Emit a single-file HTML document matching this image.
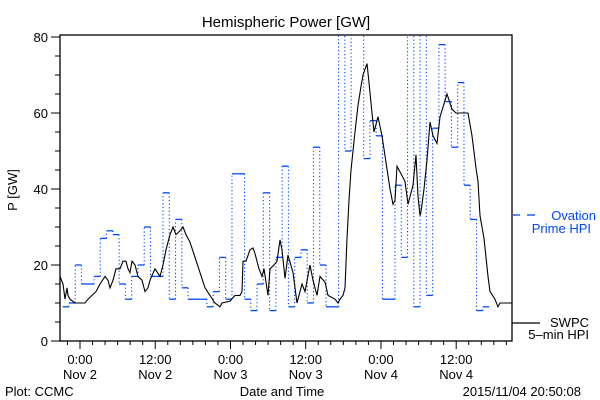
<!DOCTYPE html>
<html><head><meta charset="utf-8"><style>
body{margin:0;background:#fff;}
svg{display:block;font-family:"Liberation Sans",sans-serif;}
</style></head><body>
<svg id="chart" width="600" height="400" viewBox="0 0 600 400">
<defs><clipPath id="plotclip"><rect x="60" y="35" width="452" height="306"/></clipPath></defs>
<text x="286" y="27" font-size="15" text-anchor="middle">Hemispheric Power [GW]</text>
<rect x="60" y="35" width="452" height="306" fill="none" stroke="#000" stroke-width="1.3"/>
<g id="yaxis"></g>
<g id="xaxis"></g>
<text transform="translate(17,190) rotate(-90)" font-size="13" text-anchor="middle">P [GW]</text>
<text x="282" y="396" font-size="13" text-anchor="middle">Date and Time</text>
<text x="5" y="396" font-size="13">Plot: CCMC</text>
<text x="581" y="396" font-size="13" text-anchor="end">2015/11/04 20:50:08</text>
<g clip-path="url(#plotclip)">
<g id="ovation"></g>
<g id="swpc"></g>
</g>
<g>
<line x1="513" y1="215" x2="520" y2="215" stroke="#0048ff" stroke-width="1.3"/>
<line x1="527" y1="215" x2="535" y2="215" stroke="#0048ff" stroke-width="1.3"/>
<text x="596" y="220" font-size="13" fill="#0048ff" text-anchor="end">Ovation</text>
<text x="591" y="233" font-size="13" fill="#0048ff" text-anchor="end">Prime HPI</text>
</g>
<g>
<line x1="512" y1="323" x2="540" y2="323" stroke="#000" stroke-width="1.3"/>
<text x="589" y="327" font-size="13" text-anchor="end">SWPC</text>
<text x="589" y="339" font-size="13" text-anchor="end">5–min HPI</text>
</g>
</svg>
<script>
const yTicks=[0,20,40,60,80];
const xTickHours=[0,12,24,36,48,60];
const xTickTimes=["0:00","12:00","0:00","12:00","0:00","12:00"];
const xTickDates=["Nov 2","Nov 2","Nov 3","Nov 3","Nov 4","Nov 4"];
const ovationStart=-2.76;
const ovationValues=[9,10,20,15,15,17,27,29,28,15,11,17,20,30,17,17,39,11,32,14,11,11,11,9,13,22,11,44,44,11,8,15,39,8,22,46,9,22,24,10,51,20,9,9,85,50,85,85,48,58,54,11,11,41,22,85,9,85,12,56,78,63,51,68,41,32,8,9];
const swpcHours=[-3.19,-2.71,-2.39,-2.07,-1.91,-1.59,-0.8,0,0.8,1.28,1.91,2.55,3.19,3.99,4.47,4.78,5.26,5.74,6.38,6.86,7.34,7.66,7.97,8.29,8.77,9.25,9.89,10.37,10.85,11.16,11.96,12.76,13.24,13.72,14.35,14.83,15.31,15.95,16.43,16.91,17.54,18.34,19.14,19.94,20.73,21.53,22.33,22.65,23.92,24.72,25.52,25.84,26,26.48,27.11,27.59,27.91,28.55,29.03,29.35,29.98,30.3,30.94,31.42,31.9,32.22,32.7,33.17,33.97,34.61,35.41,35.89,36.68,37.16,37.8,38.28,39.07,39.55,40.67,41.15,41.47,41.95,42.26,42.58,42.9,43.22,43.54,43.86,44.34,44.82,45.14,45.77,46.09,46.57,46.89,47.21,47.53,48.17,48.8,49.44,49.92,50.24,50.56,51.04,51.83,52.31,52.63,53.11,53.59,53.91,54.23,54.39,54.86,55.34,55.82,56.3,56.94,57.42,58.53,59.33,59.97,61.88,62.52,63.16,63.48,63.8,64.43,65.07,65.39,66.19,66.67,66.99,68.9];
const swpcValues=[17,15,11,14,12,11,10,10,10,11,12,13,15,17,16,14,16,19,19,21,21,19,18,21,20,17,16,13,14,16,19,17,20,24,28,30,28,29,30,28,26,22,18,14,12,10,9,10,10.5,12,12,13,21,21,24,24.5,23,19,17,19,12,19,20,21,26.6,24,16.5,22.6,18,10,15,13,20,16,12,17,15.5,12,11,10,11,12,14,27,37,45,50,55,62,67,70,73,68,60,55,57,59,54,47,40,36,37,46,44.5,42,36,38,41,49,38,33,34,40,47.6,57.6,54,52,59,65,61,60,60,54,45.5,42,33,27,17,13,11,9,10,10];

const NS="http://www.w3.org/2000/svg";
const X0=60,X1=512,H0=-3.19,H1=68.9;
function xs(h){return X0+(h-H0)/(H1-H0)*(X1-X0);}
function ys(v){return 341-v*3.8;}
function mk(tag,attrs,parent){const e=document.createElementNS(NS,tag);for(const k in attrs)e.setAttribute(k,attrs[k]);parent.appendChild(e);return e;}
const yg=document.getElementById('yaxis'),xg=document.getElementById('xaxis');
for(let v=0;v<=80;v+=5){
  const major=v%20===0;
  const t=mk('line',{x1:major?51:55,x2:60,y1:ys(v),y2:ys(v),stroke:'#000','stroke-width':1},yg);
  
  
}
yTicks.forEach(v=>{
  const t=mk('text',{x:48,y:ys(v)+5,'font-size':13,'text-anchor':'end'},yg);
  t.textContent=v;
  
  
});
for(let h=-2;h<=68;h+=2){
  const major=h%12===0;
  const t=mk('line',{x1:xs(h),x2:xs(h),y1:341,y2:major?349:345,stroke:'#000','stroke-width':1},xg);
  
  
}
xTickHours.forEach((h,i)=>{
  const a=mk('text',{x:xs(h),y:364,'font-size':13,'text-anchor':'middle'},xg);
  a.textContent=xTickTimes[i];
  
  
  const b=mk('text',{x:xs(h),y:379,'font-size':13,'text-anchor':'middle'},xg);
  b.textContent=xTickDates[i];
  
  
});
const og=document.getElementById('ovation');
ovationValues.forEach((v,i)=>{
  const h=ovationStart+i;
  const s=mk('line',{x1:xs(h),x2:xs(h+1),y1:ys(v),y2:ys(v),stroke:'#0048ff','stroke-width':1.3},og);
  
  
  if(i>0){
    const d=mk('line',{x1:xs(h),x2:xs(h),y1:ys(ovationValues[i-1]),y2:ys(v),stroke:'#0048ff','stroke-width':1.1,'stroke-dasharray':'1.2 2.4'},og);
    
    
  }
});
const sg=document.getElementById('swpc');
const p=mk('polyline',{points:swpcHours.map((h,i)=>xs(h).toFixed(1)+','+ys(swpcValues[i]).toFixed(1)).join(' '),fill:'none',stroke:'#000','stroke-width':1.1},sg);


</script>
</body></html>
